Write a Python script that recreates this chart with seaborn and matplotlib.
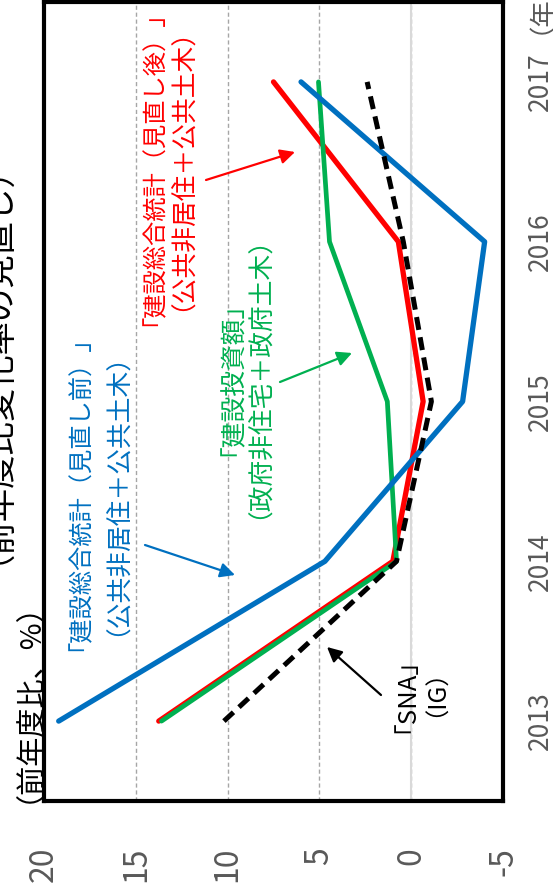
import matplotlib
matplotlib.use("Agg")
import matplotlib.pyplot as plt
import seaborn as sns
import pandas as pd

# ---- data ----
years = [2013, 2014, 2015, 2016, 2017]
before_rev = [19.2, 4.7, -2.8, -4.0, 6.0]     # 建設総合統計（見直し前）
after_rev = [13.75, 1.0, -0.65, 0.7, 7.5]     # 建設総合統計（見直し後）
invest = [13.6, 0.8, 1.3, 4.45, 5.05]         # 建設投資額
sna = [10.2, 0.8, -1.1, 0.43, 2.4]            # SNA (IG)
value_ticks = [20, 15, 10, 5, 0, -5]
value_labels = ["20", "15", "10", "5", "0", "-5"]
year_labels = ["2013", "2014", "2015", "2016", "2017"]

sns.set_theme(style="white")
plt.rcParams["font.family"] = ["Noto Sans CJK JP", "DejaVu Sans"]

W, H = 553, 891
fig = plt.figure(figsize=(W / 100, H / 100), dpi=100)


def P(x, y):
    return (x / W, 1 - y / H)


def vtext(cx, y, s, size, color, ha="center"):
    """Vertical (rotated 90) text; cx = ink centre in pixels (empirical offsets)."""
    em = size * 100 / 72
    fig.text(*P(cx - 0.15 * em, y - 0.62 * em), s, rotation=90,
             rotation_mode="anchor", ha=ha, va="baseline",
             fontsize=size, color=color)


l, r, t, b = 44, 503, 2, 801
ax = fig.add_axes([l / W, 1 - b / H, (r - l) / W, (b - t) / H])

df = pd.DataFrame({"year": years, "before": before_rev, "after": after_rev,
                   "invest": invest, "sna": sna})

# grid
ax.set_xticks(value_ticks)
ax.xaxis.grid(True, linestyle=(0, (3, 2)), color="#A6A6A6", linewidth=1.0)
ax.yaxis.grid(False)
ax.axvline(0, color="#D9D9D9", linewidth=1.5, zorder=1)

sns.lineplot(data=df, x="after", y="year", sort=False, estimator=None, ax=ax,
             color="#FF0000", linewidth=3.8, solid_capstyle="round", zorder=3)
sns.lineplot(data=df, x="invest", y="year", sort=False, estimator=None, ax=ax,
             color="#00B050", linewidth=3.4, solid_capstyle="round", zorder=4)
sns.lineplot(data=df, x="before", y="year", sort=False, estimator=None, ax=ax,
             color="#0070C0", linewidth=3.8, solid_capstyle="round", zorder=5)
sns.lineplot(data=df, x="sna", y="year", sort=False, estimator=None, ax=ax,
             color="black", linewidth=3.6, linestyle=(0, (2.6, 1.5)), zorder=6)

ax.set_xlim(20, -5)
ax.set_ylim(2012.5, 2017.5)
ax.set_xlabel("")
ax.set_ylabel("")
ax.set_xticklabels(value_labels)
ax.set_yticks(years)
ax.set_yticklabels(year_labels)
ax.yaxis.tick_right()
ax.tick_params(axis="x", length=0, pad=33, labelsize=23, labelcolor="#595959",
               labelrotation=90)
ax.tick_params(axis="y", length=0, pad=17, labelsize=19, labelcolor="#595959",
               labelrotation=90)
for lab in ax.get_yticklabels():
    lab.set_verticalalignment("center")
for s in ax.spines.values():
    s.set_visible(True)
    s.set_color("black")
    s.set_linewidth(3.0)

# unit labels / titles
vtext(539, 50, "（年）", 19, "#595959", ha="left")
vtext(26, 706, "（前年度比、%）", 21, "black")
vtext(-6, 368, "（前年度比変化率の見直し）", 24, "black")

# annotations
fs1, fs2 = 17.5, 18.5
vtext(152, 171, "「建設総合統計（見直し後）」", fs1, "#FF0000")
vtext(180, 172, "（公共非居住＋公共土木）", fs2, "#FF0000")
vtext(78, 496, "「建設総合統計（見直し前）」", fs1, "#0070C0")
vtext(115, 497, "（公共非居住＋公共土木）", fs2, "#0070C0")
vtext(230, 382, "「建設投資額」", fs2, "#00B050")
vtext(257, 380, "（政府非住宅＋政府土木）", fs2, "#00B050")
vtext(404, 698, "「SNA」", fs2, "black")
vtext(434, 696, "（IG）", fs1, "black")

arrows = [((206, 180), (295, 152), "#FF0000"),
          ((145, 545), (235, 575), "#0070C0"),
          ((280, 382), (352, 353), "#00B050"),
          ((381, 695), (327, 647), "black")]
for (sx, sy), (ex, ey), c in arrows:
    ax.annotate("", xy=P(ex, ey), xytext=P(sx, sy), xycoords="figure fraction",
                textcoords="figure fraction",
                arrowprops=dict(arrowstyle="-|>", color=c, lw=1.6,
                                mutation_scale=22, shrinkA=0, shrinkB=0),
                zorder=7)

fig.savefig("out.png", dpi=100)
